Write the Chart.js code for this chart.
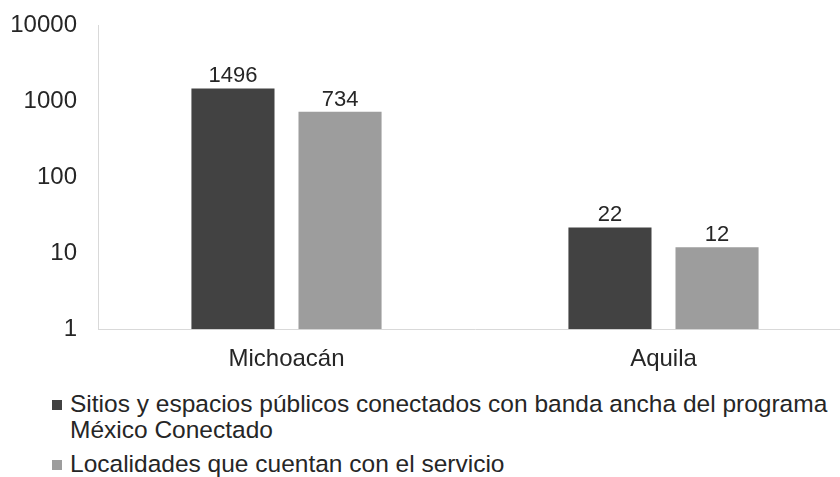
<!DOCTYPE html>
<html><head><meta charset="utf-8">
<script src="https://cdn.jsdelivr.net/npm/chart.js@4"></script>
<style>
html,body{margin:0;padding:0;width:840px;height:477px;overflow:hidden;background:#fff;}
#wrap{position:absolute;left:0;top:0;width:852px;height:390px;}
.leg{position:absolute;left:52px;width:786px;font-family:"Liberation Sans",Arial,sans-serif;font-size:24.5px;line-height:26px;color:#262626;}
.leg .box{position:absolute;left:0;top:9.5px;width:10px;height:10px;}
.leg .txt{margin-left:18px;}
</style></head><body>
<div id="wrap"><canvas id="c"></canvas></div>
<div id="legend"></div>
<script>
const categories = ["Michoacán", "Aquila"];
const seriesNames = [
  "Sitios y espacios públicos conectados con banda ancha del programa México Conectado",
  "Localidades que cuentan con el servicio"
];
const sitiosValues = [1496, 22];
const localidadesValues = [734, 12];
const yTicks = [1, 10, 100, 1000, 10000];
const seriesColors = ["#424242", "#9d9d9d"];

const FONT = '"Liberation Sans", Arial, sans-serif';
const TEXT = '#262626';

const valueLabels = {
  id: 'valueLabels',
  afterDatasetsDraw(chart) {
    const ctx = chart.ctx;
    ctx.save();
    ctx.font = '22px ' + FONT;
    ctx.fillStyle = TEXT;
    ctx.textAlign = 'center';
    ctx.textBaseline = 'alphabetic';
    chart.data.datasets.forEach((ds, i) => {
      chart.getDatasetMeta(i).data.forEach((bar, j) => {
        ctx.fillText(String(ds.data[j]), bar.x, bar.y - 6);
      });
    });
    ctx.restore();
  }
};

const allValues = [sitiosValues, localidadesValues];

new Chart(document.getElementById('c'), {
  type: 'bar',
  data: {
    labels: categories,
    datasets: allValues.map((vals, i) => ({
      label: seriesNames[i],
      data: vals,
      backgroundColor: seriesColors[i],
      borderWidth: 0,
      categoryPercentage: 0.568,
      barPercentage: 0.776
    }))
  },
  options: {
    responsive: true,
    maintainAspectRatio: false,
    animation: false,
    layout: { padding: { top: 16, left: 0, right: 0, bottom: 0 } },
    plugins: { legend: { display: false }, tooltip: { enabled: false } },
    scales: {
      x: {
        grid: { display: false, drawTicks: false },
        border: { display: true, color: '#d9d9d9', width: 1 },
        ticks: { font: { family: FONT, size: 24 }, color: TEXT, padding: 16 }
      },
      y: {
        type: 'logarithmic',
        min: 1,
        max: 10000,
        grid: { display: false, drawTicks: false },
        border: { display: true, color: '#d9d9d9', width: 1 },
        afterBuildTicks: (s) => { s.ticks = yTicks.map(v => ({ value: v })); },
        afterFit: (s) => { s.width = 98; },
        ticks: {
          font: { family: FONT, size: 24, lineHeight: 0.4 }, color: TEXT, padding: 21,
          callback: (v) => String(v)
        }
      }
    }
  },
  plugins: [valueLabels]
});

const legend = document.getElementById('legend');
const legendTops = [390.5, 450.5];
seriesNames.forEach((name, i) => {
  const item = document.createElement('div');
  item.className = 'leg';
  item.style.top = legendTops[i] + 'px';
  const box = document.createElement('span');
  box.className = 'box';
  box.style.background = seriesColors[i];
  const txt = document.createElement('div');
  txt.className = 'txt';
  txt.textContent = name;
  item.appendChild(box);
  item.appendChild(txt);
  legend.appendChild(item);
});
</script>
</body></html>
